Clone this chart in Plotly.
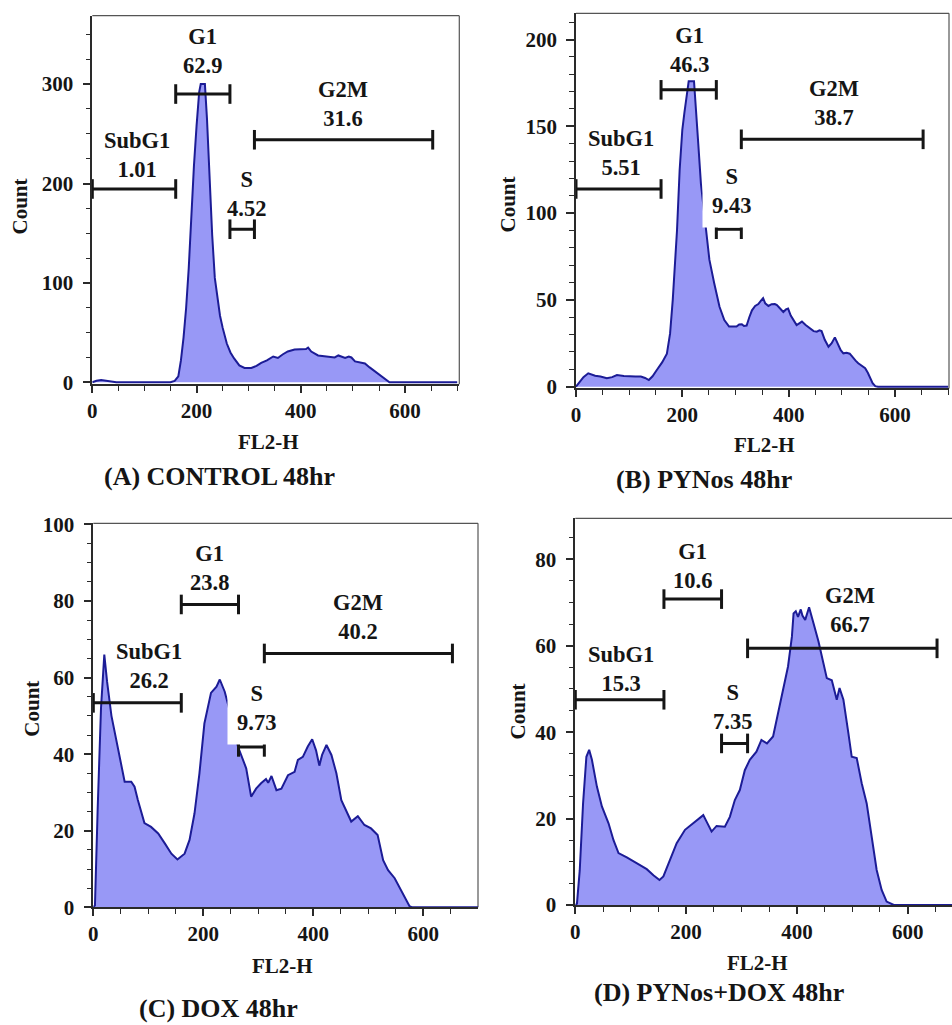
import plotly.graph_objects as go

# ---------------- data: DNA content histograms (FL2-H vs count) ----------------
a_fl2 = [0, 8, 17, 26, 35, 46, 150, 158, 165, 170,
         175, 180, 185, 190, 195, 200, 205, 208, 216, 220,
         225, 230, 235, 240, 245, 250, 258, 265, 272, 282,
         292, 305, 315, 324, 335, 347, 356, 365, 375, 388,
         400, 410, 414, 420, 433, 445, 455, 465, 472, 478,
         485, 492, 497, 504, 513, 523, 532, 542, 553, 564,
         570, 700]
a_count = [0, 1.5, 2.2, 1.5, 0.8, 0, 0, 1.5, 6, 22,
           45, 75, 115, 168, 218, 258, 292, 300, 300, 265,
           205, 148, 105, 83, 67, 55, 39, 30, 24, 17,
           14.5, 14.5, 16.5, 19.5, 22, 26, 24.5, 28, 31, 33,
           33.5, 33.5, 35, 31, 27, 26.5, 25.5, 25, 27, 26,
           24.5, 26, 25, 21, 20, 19, 15, 11, 6, 1.5,
           0, 0]

b_fl2 = [0, 5, 14, 23, 30, 36, 46, 58, 68, 77,
         90, 102, 112, 122, 130, 137, 144, 152, 162, 171,
         177, 182, 186, 190, 195, 200, 204, 208, 212, 222,
         226, 230, 235, 243, 251, 260, 270, 279, 288, 296,
         302, 307, 312, 316, 321, 326, 331, 337, 343, 348,
         352, 356, 362, 368, 374, 378, 384, 390, 395, 399,
         404, 410, 415, 420, 425, 432, 440, 447, 453, 458,
         462, 468, 475, 481, 487, 492, 498, 503, 509, 515,
         520, 526, 531, 537, 544, 549, 553, 558, 563, 568,
         700]
b_count = [0, 2, 5.5, 7.7, 7, 6.3, 5.8, 4.8, 5.5, 6.7,
           6.2, 5.8, 5.8, 5.8, 5, 3.8, 6, 9.6, 14, 19,
           30.7, 50, 69, 90, 125, 148, 158, 168, 176, 176,
           155, 140, 117, 96, 73, 59.6, 46, 38.4, 34.6, 34.6,
           34.6, 35.8, 36, 35, 35.2, 40, 44, 46.5, 47.6, 49.5,
           51, 48, 46.5, 47.5, 47.6, 47, 45, 43, 44.5, 45,
           41, 38, 35.5, 36.5, 37.5, 35.5, 33.6, 32, 31.7, 32.5,
           32, 27, 23, 25, 28.4, 25, 21, 19.2, 19.5, 19,
           17, 15, 13.5, 12, 10.6, 8, 4.8, 2, 0.3, 0,
           0]

c_fl2 = [0, 3, 8, 14, 20, 25, 33, 42, 51, 57,
         69, 75, 81, 93, 105, 118, 130, 142, 153, 166,
         175, 184, 193, 202, 214, 224, 230, 239, 245, 255,
         263, 272, 278, 287, 296, 305, 314, 318, 324, 333,
         342, 354, 366, 372, 381, 390, 398, 405, 411, 416,
         424, 433, 442, 451, 460, 469, 481, 493, 505, 517,
         527, 536, 548, 560, 575, 580, 700]
c_count = [0, 0.5, 26, 52, 66, 59, 50, 43.7, 36.7, 32.8,
           32.8, 31.5, 28, 22, 21, 19.3, 16.7, 14, 12.5, 14,
           17.6, 24.5, 35, 48, 56, 57.6, 59.5, 56.3, 53, 47.5,
           42, 38.5, 36.3, 28.9, 31, 32.4, 33.5, 32.5, 34.3, 30.6,
           31, 34.5, 35.4, 38.5, 39.3, 42, 43.9, 41, 37, 39.8,
           42.4, 39.8, 35, 28, 25.4, 22.4, 23.8, 21.5, 20.6, 18.9,
           12.3, 9.7, 7.6, 4.5, 0.3, 0, 0]

d_fl2 = [0, 3, 8, 14, 20, 25, 30, 39, 48, 60,
         69, 78, 93, 111, 129, 141, 152, 159, 171, 183,
         198, 213, 222, 231, 237, 246, 255, 270, 279, 288,
         297, 306, 315, 327, 336, 346, 357, 366, 376, 384,
         391, 394, 398, 402, 407, 410, 415, 422, 430, 439,
         448, 454, 463, 472, 477, 484, 493, 499, 508, 517,
         526, 535, 544, 553, 562, 575, 680]
d_count = [0, 0.3, 8, 23.5, 34.3, 35.9, 33.6, 27.4, 22.8, 18.9,
           15, 12, 11, 9.6, 8.3, 6.9, 5.8, 6.6, 10.4, 14.3,
           17.4, 18.9, 19.7, 20.8, 19.3, 17, 18.3, 18.1, 20.4, 24.3,
           26.6, 31.2, 33.6, 35.5, 38.2, 37.4, 39, 44.4, 50.5, 55.2,
           62.1, 67.5, 68, 66.7, 68.4, 67, 66, 68.9, 65.2, 61,
           55.9, 52.5, 52, 47.5, 50.2, 47.5, 39.7, 34.3, 34, 28.2,
           23.5, 15.8, 8.1, 3.5, 0.8, 0, 0]

# cell-cycle gates (FL2-H bounds) and percentages per sample
gate_names = ["SubG1", "G1", "S", "G2M"]
gate_bounds = [(0, 160), (160, 264), (264, 311), (311, 653)]
a_pct = ["1.01", "62.9", "4.52", "31.6"]
b_pct = ["5.51", "46.3", "9.43", "38.7"]
c_pct = ["26.2", "23.8", "9.73", "40.2"]
d_pct = ["15.3", "10.6", "7.35", "66.7"]

panel_titles = ["(A) CONTROL 48hr", "(B) PYNos 48hr", "(C) DOX 48hr", "(D) PYNos+DOX 48hr"]

# ---------------- layout of the four panels ----------------
W, H = 952, 1025
SERIF = "Liberation Serif"
FILL = "rgb(152,152,246)"
EDGE = "rgb(28,28,150)"
INK = "#151515"
AX = "#2a2a2a"

panels = [
    dict(x=a_fl2, y=a_count, pct=a_pct,
         px=(92.3, 459.3), py=(384.3, 15.7), xr=(0, 704), yr=(-2, 368.8),
         ydt=100, ymin=25, frame_right=True,
         gate_y=[194.5, 290, 154, 244],
         lab=[(85, 229), (212, 333), (295, 189), (480, 280)], lab_bg=[False] * 4,
         xtitle=(268, 442), ytitle=(19.5, 207), title=(219, 477)),
    dict(x=b_fl2, y=b_count, pct=b_pct,
         px=(576, 949), py=(388.4, 13.3), xr=(0, 701.7), yr=(-1, 215.1),
         ydt=50, ymin=10, frame_right=True,
         gate_y=[113.9, 171, 90.7, 142.5],
         lab=[(85, 134.4), (213, 194), (292, 112.8), (486, 163.7)],
         lab_bg=[False, False, True, False],
         xtitle=(764, 445), ytitle=(507.5, 205), title=(703.5, 480)),
    dict(x=c_fl2, y=c_count, pct=c_pct,
         px=(93.3, 478), py=(907.3, 523.3), xr=(0, 699.5), yr=(0, 100.3),
         ydt=20, ymin=5, frame_right=True,
         gate_y=[53.4, 79.1, 41.9, 66.3],
         lab=[(102, 63), (212, 88.5), (297, 52), (482, 75.7)],
         lab_bg=[False, False, True, False],
         xtitle=(282.5, 966), ytitle=(31.7, 709), title=(218, 1008)),
    dict(x=d_fl2, y=d_count, pct=d_pct,
         px=(575.3, 952), py=(905, 518.3), xr=(0, 680), yr=(0, 89.5),
         ydt=20, ymin=5, frame_right=False,
         gate_y=[47.5, 70.8, 37.4, 59.4],
         lab=[(82.5, 54.6), (212, 78.5), (284, 45.9), (495, 68.3)], lab_bg=[False] * 4,
         xtitle=(757.5, 963), ytitle=(517.7, 711.7), title=(718.5, 992)),
]

fig = go.Figure()
annotations = []
shapes = []
layout_axes = {}

tick_font = dict(family=SERIF, size=21, color=INK, weight="bold")
label_font = dict(family=SERIF, size=22.5, color=INK, weight="bold")
title_font = dict(family=SERIF, size=21, color=INK, weight="bold")

for i, p in enumerate(panels, start=1):
    xa = "x" if i == 1 else f"x{i}"
    ya = "y" if i == 1 else f"y{i}"
    xkey = "xaxis" if i == 1 else f"xaxis{i}"
    ykey = "yaxis" if i == 1 else f"yaxis{i}"

    layout_axes[xkey] = dict(
        domain=[p["px"][0] / W, min(p["px"][1] / W, 1.0)],
        range=list(p["xr"]), anchor=ya, automargin=False,
        showgrid=False, zeroline=False,
        showline=True, linecolor=AX, linewidth=1.6,
        ticks="outside", ticklen=7, tickwidth=1.6, tickcolor=AX,
        tick0=0, dtick=200, tickfont=tick_font, ticklabelstandoff=0,
        minor=dict(dtick=50, tick0=0, ticks="outside", ticklen=5,
                   tickwidth=1.3, tickcolor=AX, showgrid=False),
    )
    layout_axes[ykey] = dict(
        domain=[1 - p["py"][0] / H, 1 - p["py"][1] / H],
        range=list(p["yr"]), anchor=xa, automargin=False,
        showgrid=False, zeroline=False,
        showline=True, linecolor=AX, linewidth=1.6,
        ticks="outside", ticklen=8, tickwidth=1.6, tickcolor=AX,
        tick0=0, dtick=p["ydt"], tickfont=tick_font, ticklabelstandoff=5,
        minor=dict(dtick=p["ymin"], tick0=0, ticks="outside", ticklen=5,
                   tickwidth=1.3, tickcolor=AX, showgrid=False),
    )

    # histogram
    fig.add_trace(go.Scatter(
        x=p["x"], y=p["y"], xaxis=xa, yaxis=ya,
        mode="lines", fill="tozeroy", fillcolor=FILL,
        line=dict(color=EDGE, width=2), showlegend=False, hoverinfo="skip",
    ))

    # gate bars with end caps
    for (g0, g1), gy in zip(gate_bounds, p["gate_y"]):
        fig.add_trace(go.Scatter(
            x=[g0, g1], y=[gy, gy], xaxis=xa, yaxis=ya,
            mode="lines+markers",
            line=dict(color=INK, width=3),
            marker=dict(symbol="line-ns", size=14, color=INK,
                        line=dict(width=3, color=INK)),
            showlegend=False, hoverinfo="skip", cliponaxis=False,
        ))

    # gate labels
    for name, pct, (lx, ly), bg in zip(gate_names, p["pct"], p["lab"], p["lab_bg"]):
        ann = dict(x=lx, y=ly, xref=xa, yref=ya, text=f"{name}<br>{pct}",
                   showarrow=False, font=label_font, align="center",
                   xanchor="center", yanchor="middle")
        if bg:
            ann.update(bgcolor="white", borderpad=9)
        annotations.append(ann)

    # plot frame (top and right edges)
    shapes.append(dict(type="line", xref=f"{xa} domain", yref=f"{ya} domain",
                       x0=0, x1=1, y0=1, y1=1, line=dict(color="#555", width=1.2),
                       layer="below"))
    if p["frame_right"]:
        shapes.append(dict(type="line", xref=f"{xa} domain", yref=f"{ya} domain",
                           x0=1, x1=1, y0=0, y1=1, line=dict(color="#555", width=1.2),
                           layer="below"))

    # axis titles and panel caption
    annotations.append(dict(x=p["xtitle"][0] / W, y=1 - p["xtitle"][1] / H,
                            xref="paper", yref="paper", text="FL2-H", showarrow=False,
                            font=title_font, xanchor="center", yanchor="middle"))
    annotations.append(dict(x=p["ytitle"][0] / W, y=1 - p["ytitle"][1] / H,
                            xref="paper", yref="paper", text="Count", showarrow=False,
                            textangle=-90, font=title_font,
                            xanchor="center", yanchor="middle"))
    annotations.append(dict(x=p["title"][0] / W, y=1 - p["title"][1] / H,
                            xref="paper", yref="paper", text=panel_titles[i - 1],
                            showarrow=False,
                            font=dict(family=SERIF, size=26, color=INK, weight="bold"),
                            xanchor="center", yanchor="middle"))

fig.update_layout(
    width=W, height=H,
    margin=dict(l=0, r=0, t=0, b=0, autoexpand=False),
    paper_bgcolor="white", plot_bgcolor="white",
    showlegend=False,
    annotations=annotations, shapes=shapes,
    **layout_axes,
)

fig.write_html("out.html")
